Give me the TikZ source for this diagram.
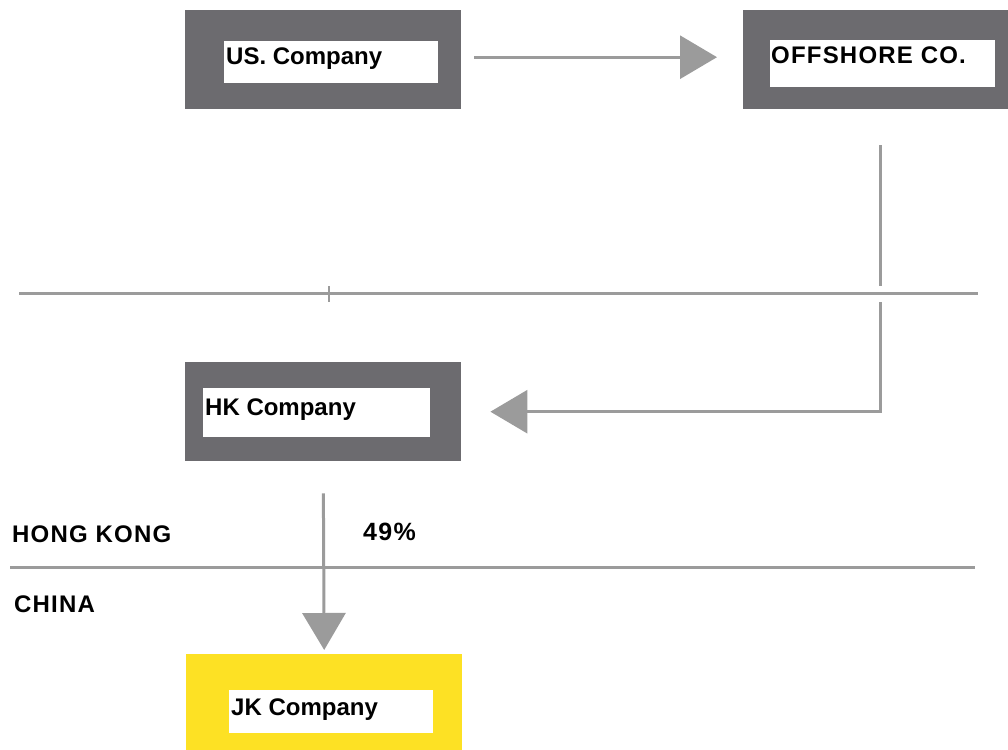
\documentclass[tikz,border=0pt]{standalone}
\usepackage{fontspec}
\setmainfont{Liberation Sans}
\newfontfamily\spacedfont[LetterSpace=5]{Liberation Sans}
\usetikzlibrary{arrows.meta,calc,positioning}
\definecolor{boxgray}{HTML}{6C6B6F}
\definecolor{linegray}{HTML}{9B9B9B}
\definecolor{boxyellow}{HTML}{FDE124}
\tikzset{
  outerbox/.style={draw=none, fill=boxgray, minimum width=276pt, minimum height=99pt, inner sep=0pt, anchor=north west},
  yellowbox/.style={outerbox, fill=boxyellow},
  whitebox/.style={draw=none, fill=white, inner sep=0pt, anchor=north west},
  label/.style={font=\bfseries\fontsize{24}{24}\selectfont, inner sep=0pt, anchor=base west},
  capslabel/.style={label, font=\spacedfont\bfseries\fontsize{24}{24}\selectfont},
  conn/.style={draw=linegray, line width=3pt, -{Triangle[length=37pt,width=43pt]}},
  divider/.style={draw=linegray, line width=3pt},
}
\begin{document}
\begin{tikzpicture}[x=1pt,y=-1pt]
\useasboundingbox (0,0) rectangle (1008,749);

% company boxes
\node[outerbox] (us) at (185,10) {};
\node[whitebox, minimum width=214pt, minimum height=42pt] (usw) at (224,41) {};
\node[label] (ust) at (226,65) {US. Company};

\node[outerbox, minimum width=274pt] (off) at (743,10) {};
\node[whitebox, minimum width=225pt, minimum height=47pt] (offw) at (770,40) {};
\node[capslabel] (offt) at (771,64) {OFFSHORE CO.};

\node[outerbox] (hk) at (185,362) {};
\node[whitebox, minimum width=227pt, minimum height=49pt] (hkw) at (203,388) {};
\node[label] (hkt) at (205,415) {HK Company};

\node[yellowbox, minimum height=110pt] (jk) at (186,654) {};
\node[whitebox, minimum width=204pt, minimum height=43pt] (jkw) at (229,690) {};
\node[label] (jkt) at (231,715) {JK Company};

% region labels
\node[capslabel] (hkl) at (12,542) {HONG KONG};
\node[capslabel] (cnl) at (14,612) {CHINA};
\node[capslabel, font=\spacedfont\bfseries\fontsize{25}{25}\selectfont] (pct) at (363,540) {49\%};

% connectors
\draw[conn, shorten <=13pt, shorten >=26pt] ($(us.east)+(0,-2.5)$) -- ($(off.west)+(0,-2.5)$);
\draw[conn, shorten <=36pt, shorten >=29pt] (off.south) |- (hk.east);
\draw[conn, shorten <=32pt, shorten >=4pt] (hk.south) -- (jk.north);

% upper divider, with a small gap cut into the vertical connector
\draw[white, line width=5pt] (880,286) -- (880,302);
\coordinate (d1a) at (19,293);
\coordinate (d1b) at (978,293);
\draw[divider] (d1a) -- (d1b);
\coordinate (t1a) at (329,286);
\coordinate (t1b) at (329,302);
\draw[draw=linegray, line width=2pt] (t1a) -- (t1b);

% border line between Hong Kong and China
\coordinate (d2a) at (10,567);
\coordinate (d2b) at (975,567);
\draw[divider] (d2a) -- (d2b);
\end{tikzpicture}
\end{document}
